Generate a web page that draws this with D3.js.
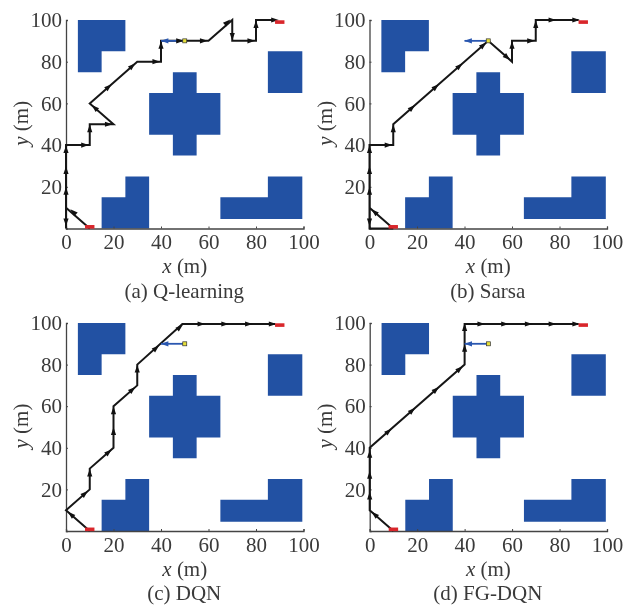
<!DOCTYPE html>
<html>
<head>
  <meta charset="utf-8">
  <title>Path planning comparison</title>
  <script src="https://d3js.org/d3.v7.min.js"></script>
  <style>
    html, body { margin: 0; padding: 0; background: #fff; }
    svg { display: block; }
    text { font-family: "Liberation Serif", serif; fill: #3a3a3a; }
    #chart { filter: blur(0.45px); }
  </style>
</head>
<body>
  <svg id="chart" width="624" height="606"></svg>
  <script>
    const tickValues = [0, 20, 40, 60, 80, 100];
    const yTickValues = [20, 40, 60, 80, 100];

    const captions = ["(a) Q-learning", "(b) Sarsa", "(c) DQN", "(d) FG-DQN"];

    // obstacle outlines, same in every panel
    const obstacleTopLeft = [[5, 100], [25, 100], [25, 85], [15, 85], [15, 75], [5, 75]];
    const obstacleRight = [[85, 85], [99.5, 85], [99.5, 65], [85, 65]];
    const obstacleCross = [[45, 75], [55, 75], [55, 65], [65, 65], [65, 45], [55, 45], [55, 35], [45, 35], [45, 45], [35, 45], [35, 65], [45, 65]];
    const obstacleBottom = [[15, 0], [15, 15], [25, 15], [25, 25], [35, 25], [35, 0]];
    const obstacleBottomRight = [[65, 4.5], [65, 15], [85, 15], [85, 25], [99.5, 25], [99.5, 4.5]];
    const obstacles = [obstacleTopLeft, obstacleRight, obstacleCross, obstacleBottom, obstacleBottomRight];

    // black route of each panel
    const pathA = [[10, 0], [0, 10], [0, 0], [0, 40], [10, 40], [10, 50], [20, 50], [10, 60], [30, 80], [40, 80], [40, 90], [60, 90], [70, 100], [70, 90], [80, 90], [80, 100], [88, 100]];
    const pathB = [[10, 0], [0, 0], [0, 10], [10, 0], [0, 10], [0, 40], [10, 40], [10, 50], [50, 90], [60, 80], [60, 90], [70, 90], [70, 100], [88, 100]];
    const pathC = [[10, 0], [0, 10], [10, 20], [10, 30], [20, 40], [20, 60], [30, 70], [30, 80], [49, 99.5], [88, 99.5]];
    const pathD = [[10, 0], [0, 10], [0, 40], [40, 80], [40, 99.5], [88, 99.5]];

    // arrow heads: x, y, direction x, direction y
    const arrowsA = [[0, 3, 0, -1], [3, 8, -1, 1], [0, 18, 0, 1], [0, 28, 0, 1], [0, 38, 0, 1], [8, 40, 1, 0], [10, 48, 0, 1], [18, 50, 1, 0], [12, 58, -1, 1], [18, 68, 1, 1], [28, 78, 1, 1], [38, 80, 1, 0], [40, 88, 0, 1], [48, 90, 1, 0], [58, 90, 1, 0], [68, 99, 1, 1], [70, 92, 0, -1], [78, 90, 1, 0], [80, 98, 0, 1], [88, 100, 1, 0]];
    const arrowsB = [[0, 3, 0, -1], [2, 8, -1, 1], [0, 18, 0, 1], [0, 28, 0, 1], [0, 38, 0, 1], [8, 40, 1, 0], [10, 48, 0, 1], [18, 58, 1, 1], [28, 68, 1, 1], [38, 78, 1, 1], [48, 88, 1, 1], [58, 82, 1, -1], [60, 88, 0, 1], [68, 90, 1, 0], [70, 98, 0, 1], [77, 100, 1, 0], [87, 100, 1, 0]];
    const arrowsC = [[2, 8, -1, 1], [8, 18, 1, 1], [10, 28, 0, 1], [18, 38, 1, 1], [20, 48, 0, 1], [20, 58, 0, 1], [28, 68, 1, 1], [30, 78, 0, 1], [38, 88, 1, 1], [48, 98, 1, 1], [57, 99.5, 1, 0], [67, 99.5, 1, 0], [77, 99.5, 1, 0], [87, 99.5, 1, 0]];
    const arrowsD = [[2, 8, -1, 1], [0, 17, 0, 1], [0, 27, 0, 1], [0, 37, 0, 1], [8, 48, 1, 1], [18, 58, 1, 1], [28, 68, 1, 1], [38, 78, 1, 1], [40, 88, 0, 1], [40, 98, 0, 1], [47, 99.5, 1, 0], [57, 99.5, 1, 0], [67, 99.5, 1, 0], [77, 99.5, 1, 0], [87, 99.5, 1, 0]];

    // blue first move: from, to
    const blueA = [[50, 90], [40, 90]];
    const blueB = [[50, 90], [40, 90]];
    const blueC = [[50, 90], [40, 90]];
    const blueD = [[50, 90], [40, 90]];

    const paths = [pathA, pathB, pathC, pathD];
    const arrows = [arrowsA, arrowsB, arrowsC, arrowsD];
    const blues = [blueA, blueB, blueC, blueD];

    const startPoint = [50, 90];
    const goalBottom = [10, 0.8];
    const goalTop = [90, 99];

    // pixel frame of each panel
    const frames = [
      { left: 66, right: 303.5, top: 20, bottom: 228.5 },
      { left: 369.5, right: 607, top: 20, bottom: 228.5 },
      { left: 66, right: 303.5, top: 323, bottom: 531 },
      { left: 369.7, right: 607, top: 323, bottom: 531 }
    ];

    const svg = d3.select("#chart");
    const blue = "#2251a3";

    function arrowHead(g, x, y, d, color, size) {
      const angle = Math.atan2(y(d[1] + d[3]) - y(d[1]), x(d[0] + d[2]) - x(d[0])) * 180 / Math.PI;
      g.append("path")
        .attr("d", `M${size},0L${-size},${-size * 0.68}L${-size},${size * 0.68}Z`)
        .attr("fill", color)
        .attr("transform", `translate(${x(d[0])},${y(d[1])}) rotate(${angle})`);
    }

    frames.forEach((f, i) => {
      const x = d3.scaleLinear().domain([0, 100]).range([f.left, f.right]);
      const y = d3.scaleLinear().domain([0, 100]).range([f.bottom, f.top]);
      const g = svg.append("g");

      const line = d3.line().x(d => x(d[0])).y(d => y(d[1]));

      g.selectAll("path.obstacle")
        .data(obstacles)
        .join("path")
        .attr("class", "obstacle")
        .attr("d", d => line(d) + "Z")
        .attr("fill", blue);

      // axes
      const xAxis = d3.axisBottom(x).tickValues(tickValues).tickSize(-2).tickPadding(6);
      const yAxis = d3.axisLeft(y).tickValues(yTickValues).tickSize(-2).tickPadding(4);
      [g.append("g").attr("transform", `translate(0,${f.bottom})`).call(xAxis),
       g.append("g").attr("transform", `translate(${f.left},0)`).call(yAxis)].forEach(a => {
        a.select(".domain").attr("stroke", "#444").attr("stroke-width", 1.3);
        a.selectAll(".tick line").attr("stroke", "#444");
        a.selectAll("text").attr("font-size", 21).attr("fill", "#3a3a3a").attr("font-family", "Liberation Serif");
      });

      // route
      g.append("path")
        .attr("d", line(paths[i]))
        .attr("fill", "none")
        .attr("stroke", "#161616")
        .attr("stroke-width", 2);

      // blue first move
      g.append("path")
        .attr("d", line(blues[i]))
        .attr("fill", "none")
        .attr("stroke", "#2a57b0")
        .attr("stroke-width", 1.8);
      arrowHead(g, x, y, [blues[i][1][0] + 1.5, blues[i][1][1], -1, 0], "#2a57b0", 3.8);

      arrows[i].forEach(d => arrowHead(g, x, y, d, "#111", 3.8));

      // start and goals
      g.append("rect")
        .attr("x", x(startPoint[0]) - 2).attr("y", y(startPoint[1]) - 2)
        .attr("width", 4).attr("height", 4)
        .attr("fill", "#e6e03a").attr("stroke", "#333").attr("stroke-width", 0.7);
      [goalBottom, goalTop].forEach(p => {
        g.append("rect")
          .attr("x", x(p[0]) - 4.7).attr("y", y(p[1]) - 1.8)
          .attr("width", 9.4).attr("height", 3.6)
          .attr("fill", "#d9262b");
      });

      // labels
      const midX = (f.left + f.right) / 2;
      const xLabel = g.append("text").attr("x", midX).attr("y", f.bottom + 44.5)
        .attr("text-anchor", "middle").attr("font-size", 21);
      xLabel.append("tspan").attr("font-style", "italic").text("x");
      xLabel.append("tspan").text(" (m)");

      const yLabel = g.append("text")
        .attr("transform", `translate(${f.left - 38},${(f.top + f.bottom) / 2 - 1}) rotate(-90)`)
        .attr("text-anchor", "middle").attr("font-size", 21);
      yLabel.append("tspan").attr("font-style", "italic").text("y");
      yLabel.append("tspan").text(" (m)");

      g.append("text").attr("x", midX - 0.5).attr("y", f.bottom + 69)
        .attr("text-anchor", "middle").attr("font-size", 21)
        .text(captions[i]);
    });
  </script>
</body>
</html>
